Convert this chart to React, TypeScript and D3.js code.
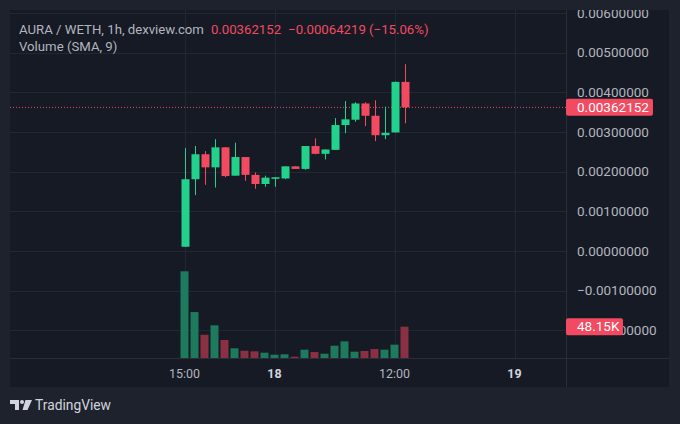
import { useEffect, useRef } from "react";
import * as d3 from "d3";

// hourly candles, starting 17th 15:00 (index 0)
const opens = [0.000108, 0.00181, 0.00244, 0.00211, 0.002614, 0.0019, 0.00237, 0.00192, 0.00169, 0.00182, 0.00183, 0.002135, 0.00207, 0.002647, 0.00245, 0.00255, 0.003176, 0.00331, 0.00372, 0.00341, 0.00292, 0.00299, 0.00426371];
const closes = [0.00181, 0.00244, 0.00211, 0.002614, 0.00189, 0.00237, 0.00192, 0.00169, 0.00185, 0.00186, 0.002135, 0.00207, 0.002647, 0.00245, 0.00256, 0.003176, 0.00332, 0.00372, 0.00341, 0.00292, 0.00298, 0.00426371, 0.00362152];
const highs = [0.0026, 0.002647, 0.00252, 0.00282, 0.00262, 0.00273, 0.00237, 0.00198, 0.0019, 0.00186, 0.00214, 0.002135, 0.002647, 0.00284, 0.00256, 0.00335, 0.00378, 0.00375, 0.00375, 0.0038, 0.00364, 0.00427, 0.00471];
const lows = [0.000108, 0.00141, 0.00167, 0.0016, 0.00186, 0.0019, 0.00177, 0.00157, 0.00162, 0.00162, 0.00181, 0.00207, 0.00205, 0.00244, 0.00231, 0.00255, 0.00297, 0.00326, 0.00315, 0.00277, 0.00282, 0.00299, 0.00322];
const volumes = [133400, 70700, 35800, 50300, 27700, 14900, 11200, 10300, 8200, 5100, 5700, 2000, 12800, 9200, 6600, 18900, 25700, 9700, 10800, 13800, 12800, 20500, 48150];

const priceTicks = [0.006, 0.005, 0.004, 0.003, 0.002, 0.001, 0, -0.001, -0.002];
const timeTicks = [
  { i: 0, label: "15:00", bold: false },
  { i: 9, label: "18", bold: true },
  { i: 21, label: "12:00", bold: false },
  { i: 33, label: "19", bold: true },
];
const lastPrice = 0.00362152;
const lastVolumeLabel = "48.15K";

const UP = "#22d18c";
const DOWN = "#f24a61";
const VOL_UP = "#1d7a5c";
const VOL_DOWN = "#8b2f42";
const TEXT = "#b2b5be";
const GRID = "#232733";
const FONT = "Roboto, 'Noto Sans', sans-serif";

// scale a text's font size so it spans the given width
function fitSize(node: SVGTextElement | null, base: number, target: number) {
  if (!node) return base;
  const w = node.getComputedTextLength();
  return w > 0 ? (base * target) / w : base;
}

export default function App() {
  const svgRef = useRef<SVGSVGElement | null>(null);

  useEffect(() => {
    if (!svgRef.current) return;
    const width = 680;
    const height = 424;
    const panel = { left: 10, top: 10, right: 669, bottom: 387 };
    const axisX = 566;
    const timeY = 358;

    const svg = d3.select(svgRef.current);
    svg.selectAll("*").remove();

    svg.append("rect").attr("width", width).attr("height", height).attr("fill", "#1e222d");
    svg.append("rect")
      .attr("x", panel.left).attr("y", panel.top)
      .attr("width", panel.right - panel.left).attr("height", panel.bottom - panel.top)
      .attr("fill", "#161a25");

    svg.append("clipPath").attr("id", "plot")
      .append("rect").attr("x", panel.left).attr("y", panel.top)
      .attr("width", axisX - panel.left).attr("height", timeY - panel.top);
    svg.append("clipPath").attr("id", "paxis")
      .append("rect").attr("x", axisX).attr("y", panel.top)
      .attr("width", panel.right - axisX).attr("height", timeY - panel.top);

    const x = d3.scaleLinear().domain([0, 33]).range([184.5, 514.5]);
    const y = d3.scaleLinear().domain([-0.002, 0.006]).range([330.4, 13]);
    const yVol = d3.scaleLinear().domain([0, 48150]).range([timeY, 326.7]);

    const plot = svg.append("g").attr("clip-path", "url(#plot)");

    // grid
    plot.selectAll(".hg").data(priceTicks).join("line")
      .attr("x1", panel.left).attr("x2", axisX)
      .attr("y1", (d) => Math.round(y(d)) + 0.5).attr("y2", (d) => Math.round(y(d)) + 0.5)
      .attr("stroke", GRID);
    plot.selectAll(".vg").data(timeTicks).join("line")
      .attr("x1", (d) => Math.round(x(d.i)) + 0.5).attr("x2", (d) => Math.round(x(d.i)) + 0.5)
      .attr("y1", panel.top).attr("y2", timeY)
      .attr("stroke", GRID);

    const idx = d3.range(opens.length);
    const barW = 8;

    // volume
    plot.selectAll(".vol").data(idx).join("rect")
      .attr("x", (i) => x(i) - barW / 2)
      .attr("y", (i) => yVol(volumes[i]))
      .attr("width", barW)
      .attr("height", (i) => timeY - yVol(volumes[i]))
      .attr("fill", (i) => (closes[i] >= opens[i] ? VOL_UP : VOL_DOWN));

    // current price line
    plot.append("line")
      .attr("x1", panel.left).attr("x2", axisX)
      .attr("y1", y(lastPrice)).attr("y2", y(lastPrice))
      .attr("stroke", DOWN).attr("stroke-width", 1)
      .attr("stroke-dasharray", "1 2");

    // candles
    const c = plot.selectAll(".candle").data(idx).join("g");
    c.append("line")
      .attr("x1", (i) => Math.round(x(i)) + 0.5).attr("x2", (i) => Math.round(x(i)) + 0.5)
      .attr("y1", (i) => y(highs[i])).attr("y2", (i) => y(lows[i]))
      .attr("stroke", (i) => (closes[i] >= opens[i] ? UP : DOWN));
    c.append("rect")
      .attr("x", (i) => Math.round(x(i)) + 0.5 - barW / 2)
      .attr("y", (i) => y(Math.max(opens[i], closes[i])))
      .attr("width", barW)
      .attr("height", (i) => Math.max(1.5, Math.abs(y(opens[i]) - y(closes[i]))))
      .attr("fill", (i) => (closes[i] >= opens[i] ? UP : DOWN));

    // axes frame
    svg.append("line")
      .attr("x1", panel.left).attr("x2", panel.right)
      .attr("y1", timeY + 0.5).attr("y2", timeY + 0.5)
      .attr("stroke", "#2a2e39");
    svg.append("line")
      .attr("x1", axisX + 0.5).attr("x2", axisX + 0.5)
      .attr("y1", panel.top).attr("y2", panel.bottom)
      .attr("stroke", "#2a2e39");

    // price axis labels
    const pa = svg.append("g").attr("clip-path", "url(#paxis)");
    const pLabels = pa.selectAll("text").data(priceTicks).join("text")
      .attr("x", 577)
      .attr("y", (d) => y(d))
      .attr("dy", "0.35em")
      .attr("fill", TEXT)
      .attr("font-family", FONT)
      .attr("font-size", 12)
      .text((d) => (d < 0 ? "\u2212" : "") + Math.abs(d).toFixed(8));
    const axisSize = fitSize(pLabels.nodes()[1] as SVGTextElement, 12, 72);
    pLabels.attr("font-size", axisSize);

    const tag = (val: number, label: string, w: number) => {
      const g = pa.append("g");
      g.append("rect")
        .attr("x", axisX).attr("y", val - 8.5)
        .attr("width", w).attr("height", 17).attr("rx", 2)
        .attr("fill", DOWN);
      g.append("text")
        .attr("x", 577).attr("y", val).attr("dy", "0.35em")
        .attr("fill", "#ffffff").attr("font-family", FONT).attr("font-size", axisSize)
        .text(label);
    };
    tag(y(lastPrice), lastPrice.toFixed(8), 87);
    tag(yVol(volumes[volumes.length - 1]), lastVolumeLabel, 57);

    // time axis labels
    const tLabels = svg.selectAll(".tt").data(timeTicks).join("text")
      .attr("x", (d) => x(d.i))
      .attr("y", 374)
      .attr("dy", "0.35em")
      .attr("text-anchor", "middle")
      .attr("fill", (d) => (d.bold ? "#d1d4dc" : TEXT))
      .attr("font-weight", (d) => (d.bold ? 700 : 400))
      .attr("font-family", FONT)
      .attr("font-size", 12)
      .text((d) => d.label);
    tLabels.attr("font-size", fitSize(tLabels.node() as SVGTextElement, 12, 31));

    // legend
    const leg = svg.append("text")
      .attr("x", 19).attr("y", 29).attr("dy", "0.35em")
      .attr("font-family", FONT).attr("font-size", 12);
    leg.append("tspan").attr("fill", TEXT).text("AURA / WETH, 1h, dexview.com");
    leg.append("tspan").attr("fill", DOWN).attr("dx", 7).text(lastPrice.toFixed(8));
    const chg = lastPrice - opens[opens.length - 1];
    leg.append("tspan").attr("fill", DOWN).attr("dx", 7)
      .text(`\u2212${Math.abs(chg).toFixed(8)} (\u2212${Math.abs((chg / opens[opens.length - 1]) * 100).toFixed(2)}%)`);
    const legSize = fitSize(leg.node() as SVGTextElement, 12, 396);
    leg.attr("font-size", legSize);
    svg.append("text")
      .attr("x", 19).attr("y", 46).attr("dy", "0.35em")
      .attr("font-family", FONT).attr("font-size", legSize).attr("fill", TEXT)
      .text("Volume (SMA, 9)");

    // TradingView logo
    const logo = svg.append("g").attr("transform", "translate(10,400)").attr("fill", "#d1d4dc");
    logo.append("path").attr("d", "M0 0 H9 V10 H5 V4 H0 Z");
    logo.append("circle").attr("cx", 12).attr("cy", 2).attr("r", 2);
    logo.append("path").attr("d", "M15.5 0 H22 L17.5 10 H12.5 Z");
    const tv = svg.append("text")
      .attr("x", 35).attr("y", 405).attr("dy", "0.35em")
      .attr("font-family", FONT).attr("font-size", 14)
      .attr("fill", "#d1d4dc")
      .text("TradingView");
    tv.attr("font-size", fitSize(tv.node() as SVGTextElement, 14, 76));
  }, []);

  return (
    <svg
      ref={svgRef}
      width={680}
      height={424}
      style={{ position: "absolute", left: 0, top: 0, display: "block" }}
    />
  );
}
